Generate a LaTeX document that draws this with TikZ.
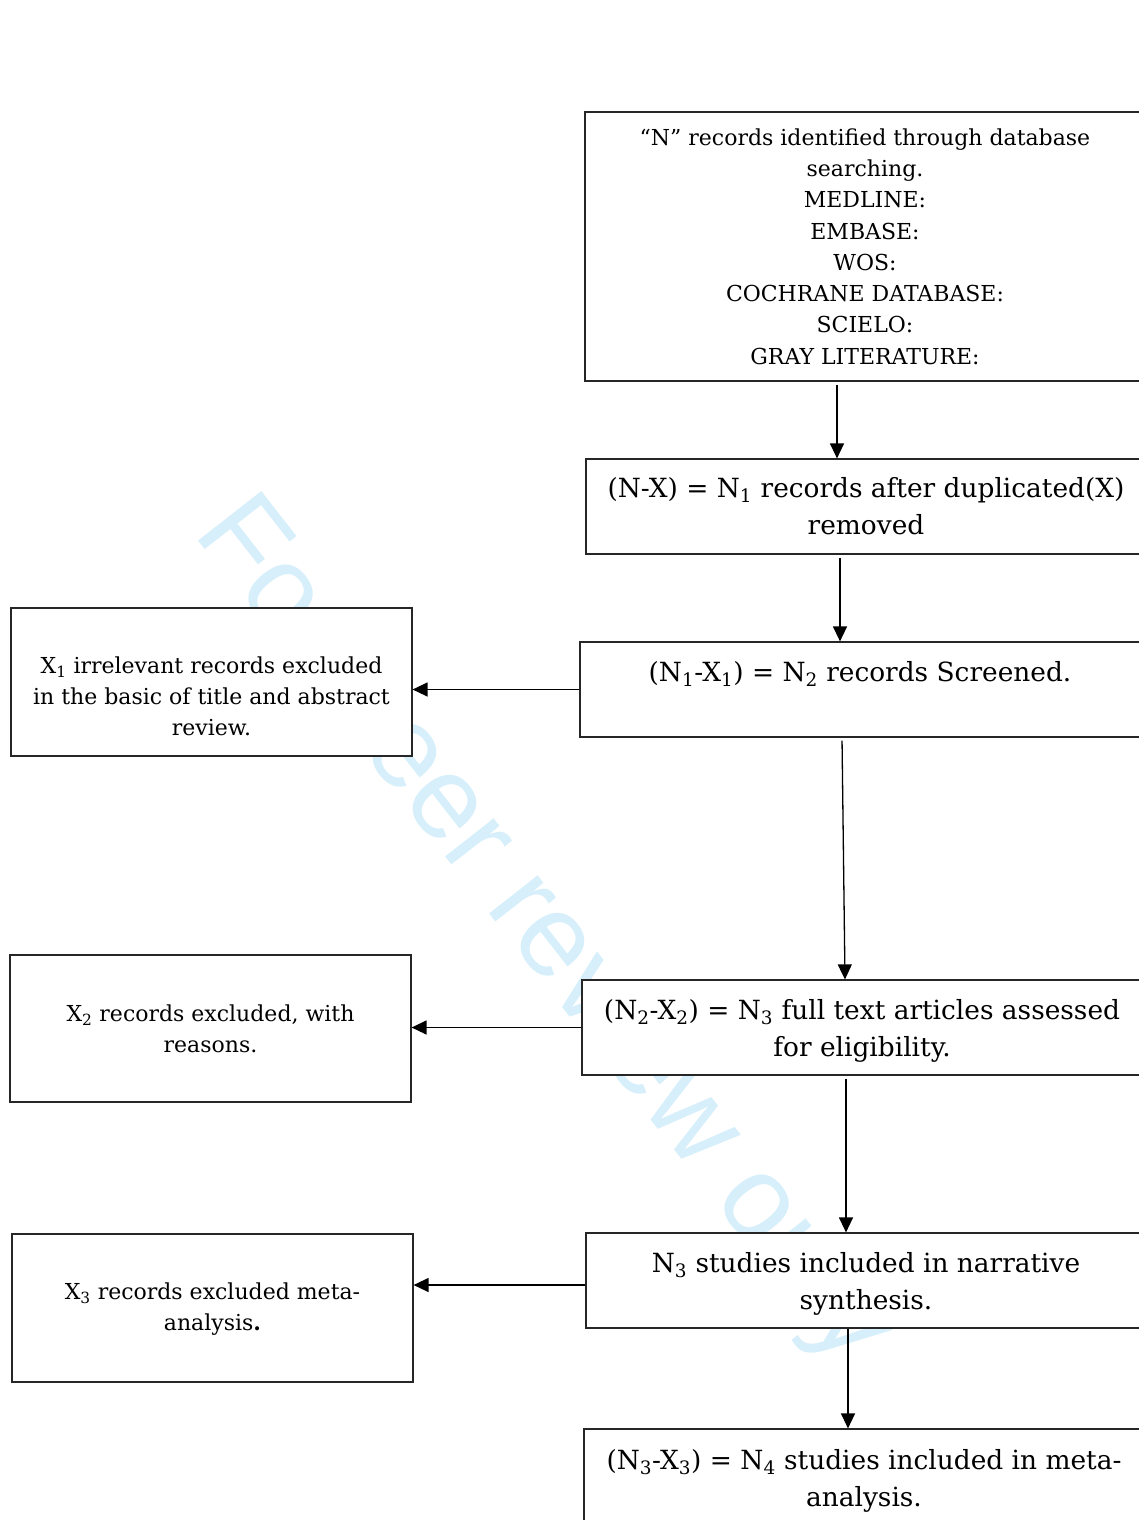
\documentclass[tikz,border=0pt]{standalone}
\usepackage{fontspec}
\setmainfont{DejaVu Serif}
\newfontfamily\wmfont{Liberation Sans}
\usetikzlibrary{arrows.meta}
\definecolor{wmblue}{RGB}{214,239,251}
\newcommand{\sbs}[1]{\textsubscript{#1}}
\begin{document}
\begin{tikzpicture}[x=1pt,y=-1pt,
  box/.style={draw=black!85, line width=1.2pt, fill=white, rectangle, inner sep=0pt, align=center},
  rbox/.style={box, minimum width=560pt, minimum height=95pt, font=\fontsize{26.4}{37}\selectfont},
  lbox/.style={box, minimum width=401pt, minimum height=148pt, font=\fontsize{22}{31.3}\selectfont},
  arr/.style={-{Triangle[length=15pt,width=14pt]}, line width=1.3pt}]
\useasboundingbox (0,0) rectangle (1139,1520);
\clip (0,0) rectangle (1139,1520);
% watermark
\node[rotate=-52, anchor=base west, inner sep=0pt, text=wmblue, font=\wmfont\fontsize{117}{117}\selectfont] (wm) at (192,533) {For peer review only};
% right column
\node[box, minimum width=560pt, minimum height=269pt, font=\fontsize{22}{31.3}\selectfont] (b1) at (865,246.5)
 {“N” records identified through database\\searching.\\MEDLINE:\\EMBASE:\\WOS:\\COCHRANE DATABASE:\\SCIELO:\\GRAY LITERATURE:};
\node[rbox] (b2) at (866,506.5) {(N-X) = N\sbs{1} records after duplicated(X)\\removed};
\node[rbox] (b3) at (860,689.5) {(N\sbs{1}-X\sbs{1}) = N\sbs{2} records Screened.\\\mbox{}};
\node[rbox] (b4) at (862,1027.5) {\mbox{}\\[-11pt](N\sbs{2}-X\sbs{2}) = N\sbs{3} full text articles assessed\\for eligibility.};
\node[rbox] (b5) at (866,1280.5) {\mbox{}\\[-11pt]N\sbs{3} studies included in narrative\\synthesis.};
\node[rbox, minimum height=98pt] (b6) at (864,1478) {\mbox{}\\[-12pt](N\sbs{3}-X\sbs{3}) = N\sbs{4} studies included in meta-\\analysis.};
% left column
\node[lbox] (l1) at (211.5,682) {\mbox{}\\[14pt]X\sbs{1} irrelevant records excluded\\in the basic of title and abstract\\review.};
\node[lbox, minimum height=147pt] (l2) at (210.5,1028.5) {X\sbs{2} records excluded, with\\reasons.};
\node[lbox] (l3) at (212.5,1308) {\mbox{}\\[-12pt]X\sbs{3} records excluded meta-\\analysis\textbf{.}};
% connectors
\coordinate (x1) at (837,0);
\coordinate (x2) at (840,0);
\coordinate (x3a) at (842,0);
\coordinate (x3b) at (845,0);
\coordinate (x4) at (846,0);
\coordinate (x5) at (848,0);
\draw[arr, shorten <=3pt] (b1.south -| x1) -- (b2.north -| x1);
\draw[arr, shorten <=3pt] (b2.south -| x2) -- (b3.north -| x2);
\draw[arr, shorten <=3pt] (b3.south -| x3a) -- (b4.north -| x3b);
\draw[arr, shorten <=3pt] (b4.south -| x4) -- (b5.north -| x4);
\draw[arr] (b5.south -| x5) -- (b6.north -| x5);
\draw[arr] (b3.west) -- (b3.west -| l1.east);
\draw[arr] (b4.west) -- (b4.west -| l2.east);
\draw[arr] ([yshift=-4.5pt]b5.west) -- ([yshift=-4.5pt]b5.west -| l3.east);
\end{tikzpicture}
\end{document}
